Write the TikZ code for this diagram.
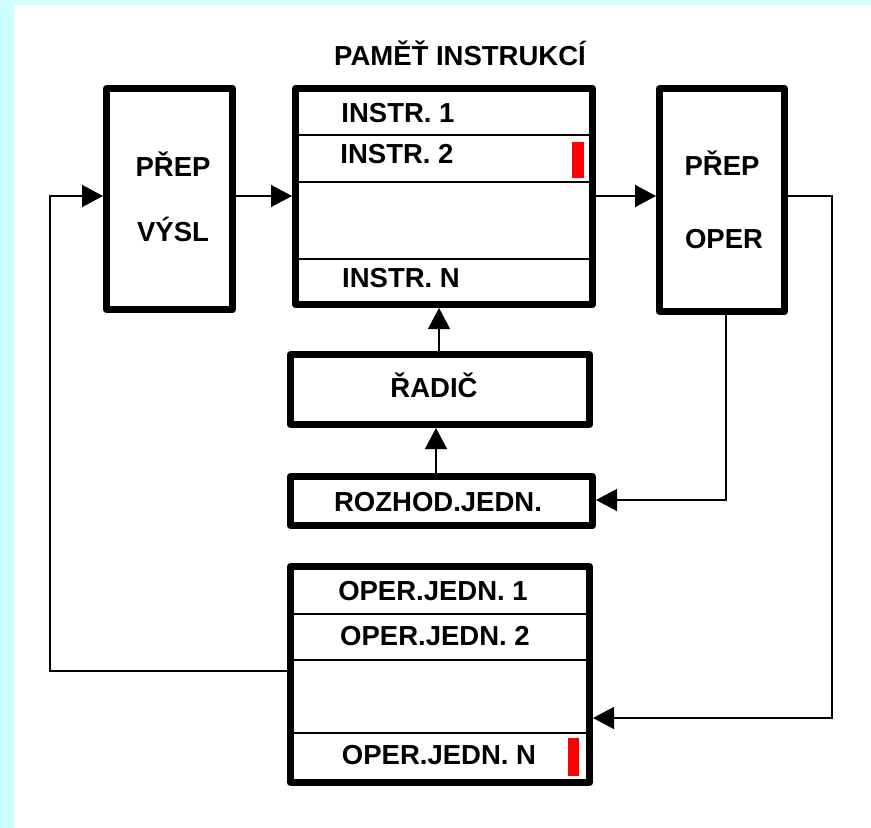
\documentclass[tikz,border=0pt]{standalone}
\usepackage{fontspec}
\setmainfont{Liberation Sans}
\usetikzlibrary{arrows.meta}
\definecolor{bgcyan}{RGB}{204,255,255}
\begin{document}
\begin{tikzpicture}[x=1pt,y=-1pt,
  box/.style={draw=black, line width=7pt, line join=round, fill=white, inner sep=0pt},
  row/.style={draw=black, line width=2pt},
  lbl/.style={inner sep=0pt, anchor=base, font=\fontsize{27.5}{32}\selectfont\bfseries},
  conn/.style={draw=black, line width=1.5pt},
  arr/.style={conn, -{Triangle[length=21pt,width=22pt]}},
  redbar/.style={fill=red, draw=none}
]
\useasboundingbox (0,0) rectangle (871,828);
\fill[bgcyan] (0,0) rectangle (871,828);
\fill[white] (14,5) rectangle (871,828);

% boxes
\node[box, minimum width=126pt, minimum height=221pt] (vysl) at (169.5,199) {};
\node[box, minimum width=297pt, minimum height=216pt] (mem) at (444,196.5) {};
\node[box, minimum width=125pt, minimum height=223pt] (oper) at (722,200) {};
\node[box, minimum width=299pt, minimum height=70pt] (radic) at (440,389.5) {};
\node[box, minimum width=302pt, minimum height=49pt] (rozhod) at (441.5,501) {};
\node[box, minimum width=299pt, minimum height=216pt] (units) at (440,674.5) {};

% memory rows
\draw[row] (mem.west |- 0,135) -- (mem.east |- 0,135);
\draw[row] (mem.west |- 0,182) -- (mem.east |- 0,182);
\draw[row] (mem.west |- 0,259) -- (mem.east |- 0,259);
\fill[redbar] (572,142) rectangle (584,178);

% operation unit rows
\draw[row] (units.west |- 0,614) -- (units.east |- 0,614);
\draw[row] (units.west |- 0,660) -- (units.east |- 0,660);
\draw[row] (units.west |- 0,733) -- (units.east |- 0,733);
\fill[redbar] (568,738) rectangle (579,776);

% labels
\node[lbl] (title) at (460,65) {PAMĚŤ INSTRUKCÍ};
\node[lbl] (i1) at (398,122) {INSTR. 1};
\node[lbl] (i2) at (397,163) {INSTR. 2};
\node[lbl] (iN) at (401,287) {INSTR. N};
\node[lbl] (v1) at (173,176) {PŘEP};
\node[lbl] (v2) at (173,241) {VÝSL};
\node[lbl] (o1) at (722,175) {PŘEP};
\node[lbl] (o2) at (724,248) {OPER};
\node[lbl] (rl) at (434,397) {ŘADIČ};
\node[lbl] (zl) at (438,511) {ROZHOD.JEDN.};
\node[lbl] (u1) at (433,600) {OPER.JEDN. 1};
\node[lbl] (u2) at (435,645) {OPER.JEDN. 2};
\node[lbl] (uN) at (439,764) {OPER.JEDN. N};

% helper coordinates
\coordinate (ytop) at (0,196);
\coordinate (xr) at (832,0);
\coordinate (yu) at (0,718);
\coordinate (xo) at (726,0);
\coordinate (yz) at (0,500);
\coordinate (xl) at (50,0);
\coordinate (yl) at (0,671);

% connectors
\draw[arr] (vysl.east |- ytop) -- (mem.west |- ytop);
\draw[arr] (mem.east |- ytop) -- (oper.west |- ytop);
\draw[arr] (oper.east |- ytop) -- (xr |- ytop) -- (xr |- yu) -- (units.east |- yu);
\draw[arr] (oper.south -| xo) -- (xo |- yz) -- (rozhod.east |- yz);
\draw[arr] (radic.north -| 439,0) -- (mem.south -| 439,0);
\draw[arr] (rozhod.north -| 436,0) -- (radic.south -| 436,0);
\draw[arr] (units.west |- yl) -- (xl |- yl) -- (xl |- ytop) -- (vysl.west |- ytop);
\end{tikzpicture}
\end{document}
